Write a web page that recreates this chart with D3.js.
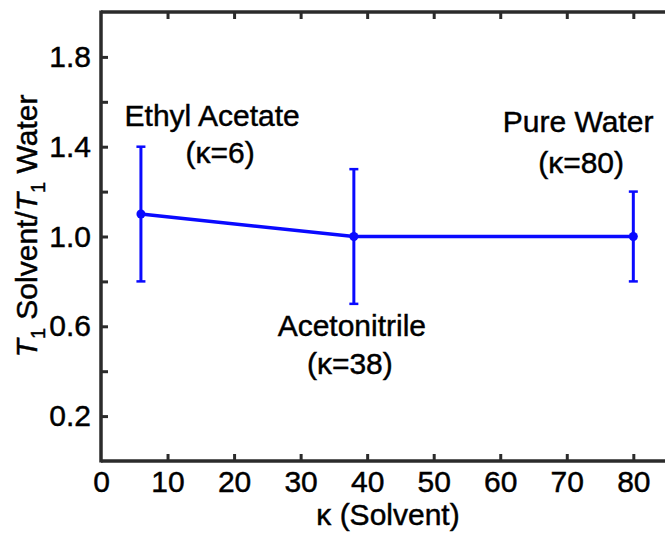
<!DOCTYPE html>
<html>
<head>
<meta charset="utf-8">
<script src="https://cdn.jsdelivr.net/npm/d3@7"></script>
<style>
body { margin: 0; background: #fff; }
text { font-family: "Liberation Sans", Arial, sans-serif; stroke: #000; stroke-width: 0.45px; }
</style>
</head>
<body>
<div id="chart"></div>
<script>
let kappa = [6, 38, 80]
let ratio = [1.1, 1.0, 1.0]
let errLow = [0.8, 0.7, 0.8]
let errHigh = [1.4, 1.3, 1.2]

let solventNames = ['Ethyl Acetate', 'Acetonitrile', 'Pure Water']
let solventKappa = ['(κ=6)', '(κ=38)', '(κ=80)']

let xTicks = [0, 10, 20, 30, 40, 50, 60, 70, 80]
let yTicks = [0.2, 0.4, 0.6, 0.8, 1.0, 1.2, 1.4, 1.6, 1.8]
let yTickLabels = [0.2, 0.6, 1.0, 1.4, 1.8]

// where the annotations sit, in data units, plus a nudge for the second line
let labelAt = [
	{'x': 16.7, 'y': 1.494, 'dx2': 8, 'dy2': 37.5},
	{'x': 37.7, 'y': 0.557, 'dx2': -2, 'dy2': 38},
	{'x': 71.7, 'y': 1.466, 'dx2': 3, 'dy2': 41}
]

let width = 665
let height = 533
let plotLeft = 101
let plotTop = 12
let plotBottom = 461
let fontSize = 30

let xScale = d3.scaleLinear()
	.domain([0, 85])
	.range([plotLeft, plotLeft + 85 * 6.654])

let yScale = d3.scaleLinear()
	.domain([0, 2])
	.range([plotBottom, plotTop])

const svg = d3.select('#chart')
	.append('svg')
	.attr('width', width)
	.attr('height', height)

let axisColor = '#2b2b2b'
let blue = '#0a0aff'

// bottom axis
let xG = svg.append('g')
	.attr('transform', `translate(0,${plotBottom})`)
	.call(d3.axisBottom(xScale).tickValues(xTicks).tickSize(-7).tickPadding(10).tickFormat(d3.format('d')))

// top axis (ticks only)
let xTopG = svg.append('g')
	.attr('transform', `translate(0,${plotTop})`)
	.call(d3.axisTop(xScale).tickValues(xTicks).tickSize(-7).tickFormat(''))

// left axis
let yG = svg.append('g')
	.attr('transform', `translate(${plotLeft},0)`)
	.call(d3.axisLeft(yScale).tickValues(yTicks).tickSize(-7).tickPadding(10)
		.tickFormat(d => yTickLabels.some(v => Math.abs(v - d) < 1e-9) ? d3.format('.1f')(d) : ''))

;[xG, xTopG, yG].forEach(function(g){
	g.attr('font-size', fontSize).attr('font-family', '"Liberation Sans", Arial, sans-serif')
	g.selectAll('path').attr('stroke', axisColor).attr('stroke-width', 3.5)
	g.selectAll('line').attr('stroke', axisColor).attr('stroke-width', 3)
	g.selectAll('text').attr('fill', '#000')
})
xG.select('.domain').attr('d', `M${plotLeft},0H${width + 5}`)
xTopG.select('.domain').attr('d', `M${plotLeft},0H${width + 5}`)
yG.select('.domain').attr('d', `M0,${plotBottom + 1.5}V${plotTop - 1.5}`)
xG.selectAll('.tick').filter(d => d === 0).select('line').remove()
xTopG.selectAll('.tick').filter(d => d === 0).select('line').remove()

let points = kappa.map((k, i) => ({'k': k, 'r': ratio[i], 'lo': errLow[i], 'hi': errHigh[i]}))

// error bars
svg.selectAll('.errBar')
	.data(points)
	.enter()
	.append('line')
	.attr('class', 'errBar')
	.attr('x1', d => xScale(d.k))
	.attr('x2', d => xScale(d.k))
	.attr('y1', d => yScale(d.lo))
	.attr('y2', d => yScale(d.hi))
	.attr('stroke', blue)
	.attr('stroke-width', 3)

let caps = []
points.forEach(function(d){
	caps.push({'k': d.k, 'v': d.lo})
	caps.push({'k': d.k, 'v': d.hi})
})

svg.selectAll('.errCap')
	.data(caps)
	.enter()
	.append('line')
	.attr('class', 'errCap')
	.attr('x1', d => xScale(d.k) - 4.5)
	.attr('x2', d => xScale(d.k) + 4.5)
	.attr('y1', d => yScale(d.v))
	.attr('y2', d => yScale(d.v))
	.attr('stroke', blue)
	.attr('stroke-width', 2.5)

let lineGenerator = d3.line()
	.x(d => xScale(d.k))
	.y(d => yScale(d.r))

svg.append('path')
	.datum(points)
	.attr('d', lineGenerator)
	.attr('fill', 'none')
	.attr('stroke', blue)
	.attr('stroke-width', 3.5)

svg.selectAll('.dot')
	.data(points)
	.enter()
	.append('circle')
	.attr('class', 'dot')
	.attr('cx', d => xScale(d.k))
	.attr('cy', d => yScale(d.r))
	.attr('r', 4.5)
	.attr('fill', blue)

// annotations
let labels = solventNames.map((n, i) => Object.assign({'name': n, 'kap': solventKappa[i]}, labelAt[i]))

let labelG = svg.selectAll('.solventLabel')
	.data(labels)
	.enter()
	.append('text')
	.attr('class', 'solventLabel')
	.attr('text-anchor', 'middle')
	.attr('font-size', fontSize)
	.attr('fill', '#000')

labelG.append('tspan')
	.attr('x', d => xScale(d.x))
	.attr('y', d => yScale(d.y))
	.text(d => d.name)

labelG.append('tspan')
	.attr('x', d => xScale(d.x) + d.dx2)
	.attr('dy', d => d.dy2)
	.text(d => d.kap)

// axis titles
svg.append('text')
	.attr('x', 388)
	.attr('y', 525)
	.attr('text-anchor', 'middle')
	.attr('font-size', fontSize)
	.text('κ (Solvent)')

let yTitle = svg.append('text')
	.attr('transform', 'translate(37,226) rotate(-90)')
	.attr('text-anchor', 'middle')
	.attr('font-size', fontSize)

yTitle.append('tspan').attr('font-style', 'italic').text('T')
yTitle.append('tspan').attr('font-size', 20).attr('dy', 8).text('1')
yTitle.append('tspan').attr('dy', -8).text(' Solvent/')
yTitle.append('tspan').attr('font-style', 'italic').text('T')
yTitle.append('tspan').attr('font-size', 20).attr('dy', 8).text('1')
yTitle.append('tspan').attr('dy', -8).text(' Water')
</script>
</body>
</html>
